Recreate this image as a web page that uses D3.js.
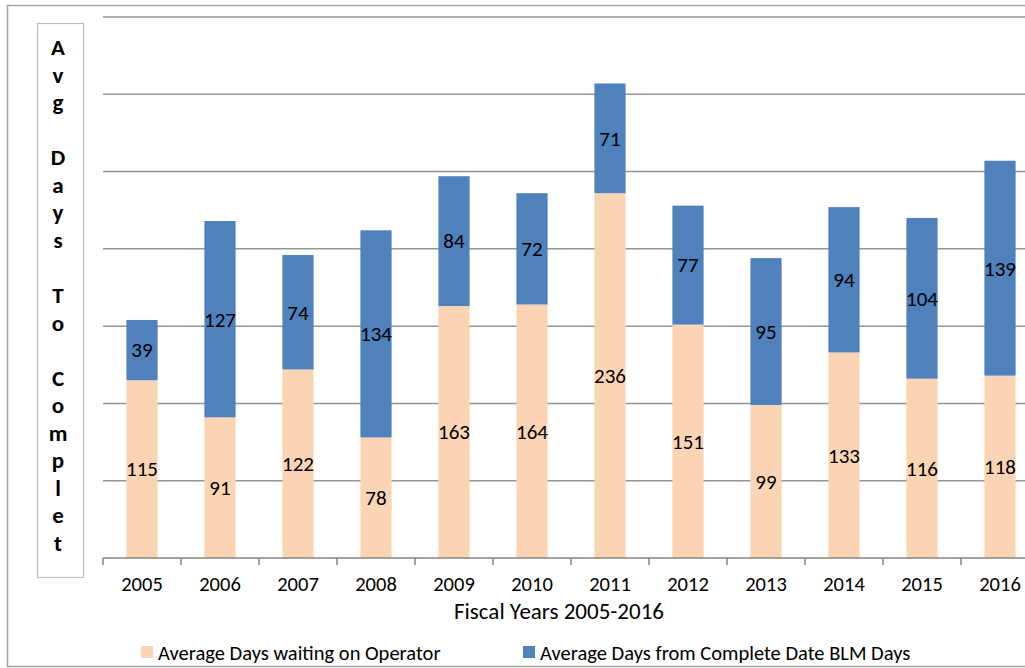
<!DOCTYPE html>
<html>
<head>
<meta charset="utf-8">
<script src="https://d3js.org/d3.v7.min.js"></script>
<style>
  body { margin: 0; background: #fff; }
  svg text { font-family: Carlito, "Open Sans", "Noto Sans", sans-serif; fill: #000; }
  .lbl { font-size: 21px; }
  .ytitle { font-size: 23px; font-weight: bold; }
</style>
</head>
<body>
<script>
// data
var years = ["2005","2006","2007","2008","2009","2010","2011","2012","2013","2014","2015","2016"];
var waitingOperator = [115, 91, 122, 78, 163, 164, 236, 151, 99, 133, 116, 118];
var blmDays = [39, 127, 74, 134, 84, 72, 71, 77, 95, 94, 104, 139];
var yTicks = [0, 50, 100, 150, 200, 250, 300, 350];
var seriesNames = ["Average Days waiting on Operator", "Average Days from Complete Date BLM Days"];
var colors = ["#FBD4B4", "#4F81BD"];

var W = 1025, H = 668;
var plotLeft = 103, plotTop = 17, plotBottom = 558;
var step = 78;

var svg = d3.select("body").append("svg")
    .attr("width", W)
    .attr("height", H);

// outer frame
svg.append("rect")
    .attr("x", 7.5).attr("y", 5.5)
    .attr("width", 1040).attr("height", 661)
    .attr("fill", "none").attr("stroke", "#a6a6a6").attr("stroke-width", 1.5);

var x = d3.scaleBand().domain(years).range([plotLeft, plotLeft + step * years.length]).paddingInner(0.6).paddingOuter(0.3);
var y = d3.scaleLinear().domain([0, 350]).range([plotBottom, plotTop]);

// gridlines
svg.append("g").selectAll("line")
    .data(yTicks.slice(1))
    .enter().append("line")
    .attr("x1", plotLeft).attr("x2", W)
    .attr("y1", function(d) { return y(d); })
    .attr("y2", function(d) { return y(d); })
    .attr("stroke", "#959595").attr("stroke-width", 1.5);

// stacked bars
var rows = years.map(function(yr, i) {
  return { year: yr, a: waitingOperator[i], b: blmDays[i] };
});

var g = svg.append("g");
g.selectAll(".barA").data(rows).enter().append("rect")
    .attr("x", function(d) { return x(d.year); })
    .attr("width", x.bandwidth())
    .attr("y", function(d) { return y(d.a); })
    .attr("height", function(d) { return y(0) - y(d.a); })
    .attr("fill", colors[0]);

g.selectAll(".barB").data(rows).enter().append("rect")
    .attr("x", function(d) { return x(d.year); })
    .attr("width", x.bandwidth())
    .attr("y", function(d) { return y(d.a + d.b); })
    .attr("height", function(d) { return y(d.a) - y(d.a + d.b); })
    .attr("fill", colors[1]);

// data labels
g.selectAll(".lblA").data(rows).enter().append("text")
    .attr("class", "lbl")
    .attr("x", function(d) { return x(d.year) + x.bandwidth() / 2; })
    .attr("y", function(d) { return (y(0) + y(d.a)) / 2; })
    .attr("dy", "0.35em")
    .attr("text-anchor", "middle")
    .text(function(d) { return d.a; });

g.selectAll(".lblB").data(rows).enter().append("text")
    .attr("class", "lbl")
    .attr("x", function(d) { return x(d.year) + x.bandwidth() / 2; })
    .attr("y", function(d) { return (y(d.a) + y(d.a + d.b)) / 2; })
    .attr("dy", "0.35em")
    .attr("text-anchor", "middle")
    .text(function(d) { return d.b; });

// x axis
var xAxis = svg.append("g")
    .attr("transform", "translate(0," + plotBottom + ")")
    .call(d3.axisBottom(x).tickSize(0).tickPadding(18));
xAxis.select(".domain").attr("stroke", "#868686").attr("stroke-width", 1.5)
    .attr("d", "M" + plotLeft + ",0H" + (plotLeft + step * years.length));
xAxis.selectAll(".tick text").style("font-size", "20.5px").attr("fill", "#000");
xAxis.attr("font-family", null);
// category separator ticks
xAxis.selectAll(".sep").data(d3.range(years.length + 1)).enter().append("line")
    .attr("x1", function(i) { return plotLeft + step * i; })
    .attr("x2", function(i) { return plotLeft + step * i; })
    .attr("y1", 0).attr("y2", 7)
    .attr("stroke", "#868686").attr("stroke-width", 1.5);

svg.append("text")
    .attr("x", 559).attr("y", 619)
    .attr("text-anchor", "middle")
    .style("font-size", "23px")
    .text("Fiscal Years 2005-2016");

// vertical y title in a box
svg.append("rect")
    .attr("x", 37.5).attr("y", 23.5)
    .attr("width", 46).attr("height", 554)
    .attr("fill", "#fff").attr("stroke", "#bfbfbf").attr("stroke-width", 1.2);

var titleChars = "Avg Days To Complet".split("").map(function(c) { return c === " " ? "" : c; });
svg.append("g").selectAll("text")
    .data(titleChars).enter().append("text")
    .attr("class", "ytitle")
    .attr("x", 58)
    .attr("y", function(d, i) { return 55 + i * 27.55; })
    .attr("text-anchor", "middle")
    .text(function(d) { return d; });

// legend
var legX = [141, 523];
var leg = svg.append("g");
seriesNames.forEach(function(name, i) {
  leg.append("rect")
      .attr("x", legX[i]).attr("y", 646)
      .attr("width", 12).attr("height", 12)
      .attr("fill", colors[i]);
  leg.append("text")
      .attr("x", legX[i] + 17).attr("y", 660)
      .style("font-size", "20.5px")
      .text(name);
});
</script>
</body>
</html>
